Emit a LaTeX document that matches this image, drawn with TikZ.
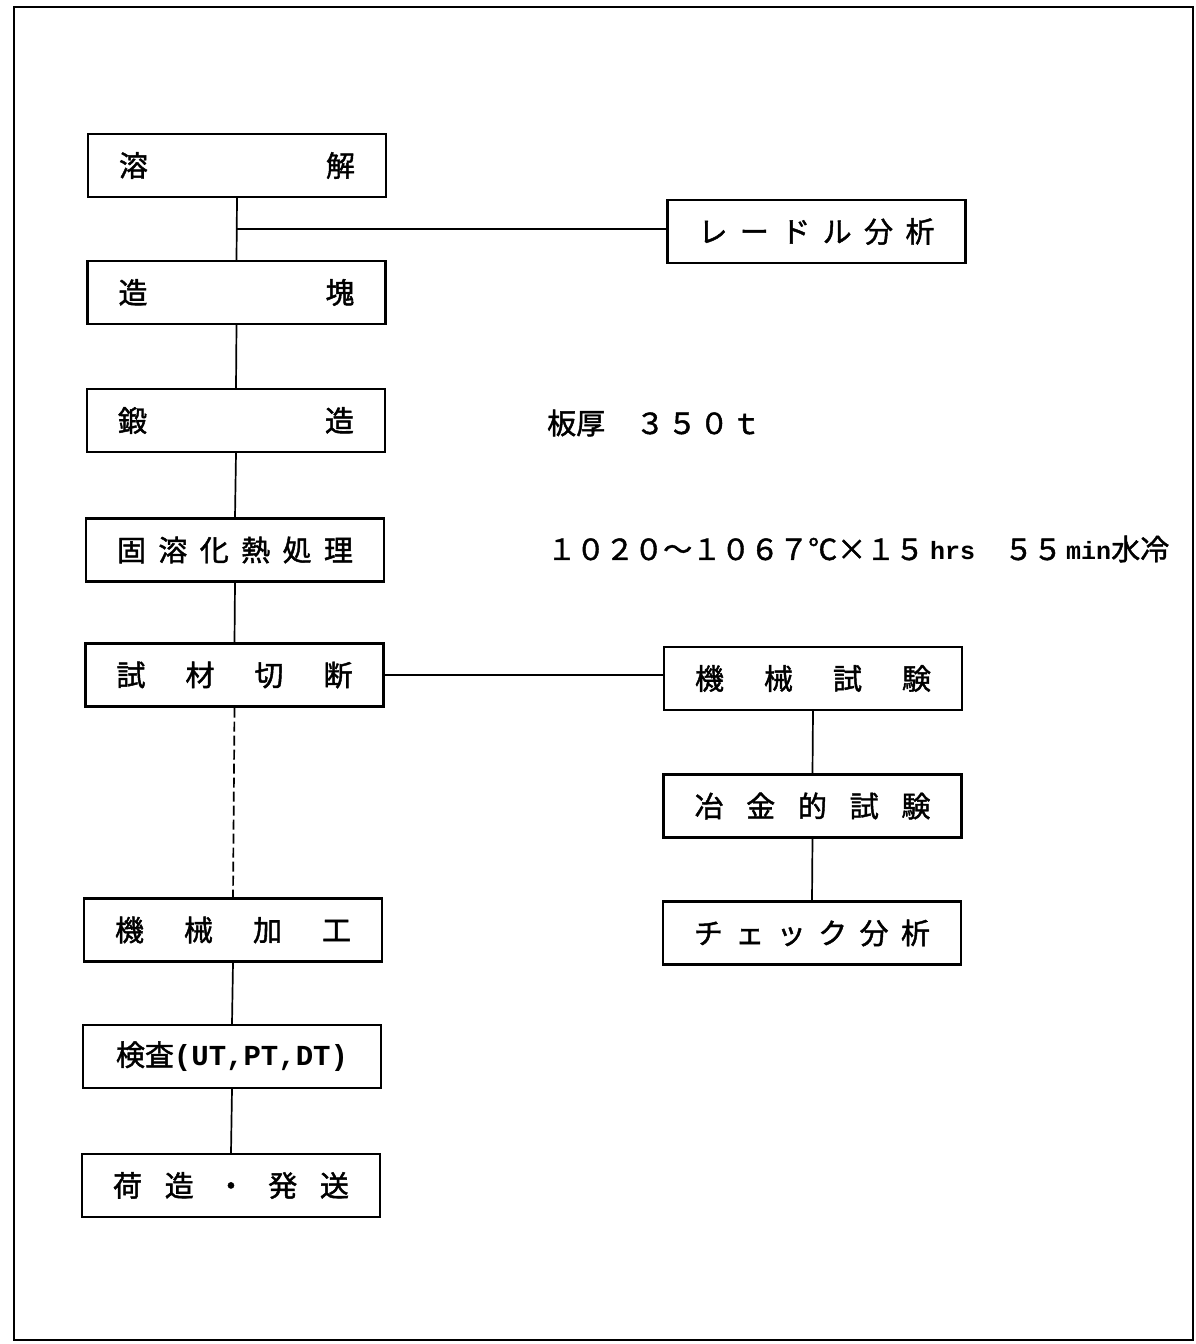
\documentclass[tikz,border=0pt]{standalone}
\usepackage{fontspec}
\setmainfont{Noto Sans CJK JP}[RawFeature={embolden=1.5}]
\newfontfamily\monof{Liberation Mono}
\usetikzlibrary{calc}
\newcommand\spreadtxt[1]{\makebox[236pt][s]{#1}}
\newcommand\fwc[1]{\makebox[32pt]{#1}}
\newcommand\emc[1]{\makebox[29pt]{#1}}
\tikzset{
  pbox/.style={draw, line width=2.2pt, minimum width=298pt, minimum height=63pt,
    inner sep=0pt, font=\fontsize{29}{32}\selectfont},
  link/.style={line width=1.7pt},
  dlink/.style={line width=1.7pt, dash pattern=on 10pt off 4pt},
  note/.style={anchor=west, inner sep=0pt, font=\fontsize{29}{32}\selectfont}
}
\begin{document}
\begin{tikzpicture}[x=1pt,y=-1pt]
\useasboundingbox (0,0) rectangle (1196,1344);
\draw[line width=2.8pt] (14,7) rectangle (1193,1340);

% left column
\node[pbox] (youkai) at (237,165.5) {\spreadtxt{溶\hfill 解}};
\node[pbox] (zoukai) at (236.5,292.5) {\spreadtxt{造\hfill 塊}};
\node[pbox] (tanzou) at (236,420.5) {\spreadtxt{鍛\hfill 造}};
\node[pbox] (youka) at (235,550) {\spreadtxt{固\hfill 溶\hfill 化\hfill 熱\hfill 処\hfill 理}};
\node[pbox] (shizai) at (234.5,675) {\spreadtxt{試\hfill 材\hfill 切\hfill 断}};
\node[pbox] (kakou) at (233,930) {\spreadtxt{機\hfill 械\hfill 加\hfill 工}};
\node[pbox] (kensa) at (232,1056.5) {検査{\monof\bfseries (UT,PT,DT)}};
\node[pbox] (nizukuri) at (231,1185.5) {\spreadtxt{荷\hfill 造\hfill ・\hfill 発\hfill 送}};

% right column
\node[pbox] (ladle) at (816.5,231.5) {\spreadtxt{レ\hfill ー\hfill ド\hfill ル\hfill 分\hfill 析}};
\node[pbox] (kikai) at (813,678.5) {\spreadtxt{機\hfill 械\hfill 試\hfill 験}};
\node[pbox] (yakin) at (812.5,806) {\spreadtxt{冶\hfill 金\hfill 的\hfill 試\hfill 験}};
\node[pbox] (check) at (812,933) {\spreadtxt{チ\hfill ェ\hfill ッ\hfill ク\hfill 分\hfill 析}};

% notes
\node[note] (atsu) at (547,423) {板厚\emc{　}\fwc{３}\fwc{５}\fwc{０}\fwc{ｔ}};
\node[note] (netsu) at (547,549) {１０２０～１０６７℃\emc{×}１５\hspace{6pt}{\monof\bfseries\fontsize{25}{28}\selectfont hrs}\emc{　}５５\hspace{4pt}{\monof\bfseries\fontsize{25}{28}\selectfont min}水冷};

% connectors
\coordinate (j1) at ($(youkai.south)!0.5!(zoukai.north)$);
\draw[link] (youkai.south) -- (zoukai.north);
\draw[link] (j1) -- (j1 -| ladle.west);
\draw[link] (zoukai.south) -- (tanzou.north);
\draw[link] (tanzou.south) -- (youka.north);
\draw[link] (youka.south) -- (shizai.north);
\draw[dlink] (shizai.south) -- (kakou.north);
\draw[link] (kakou.south) -- (kensa.north);
\draw[link] (kensa.south) -- (nizukuri.north);
\draw[link] (shizai.east) -- (shizai.east -| kikai.west);
\draw[link] (kikai.south) -- (yakin.north);
\draw[link] (yakin.south) -- (check.north);
\end{tikzpicture}
\end{document}
